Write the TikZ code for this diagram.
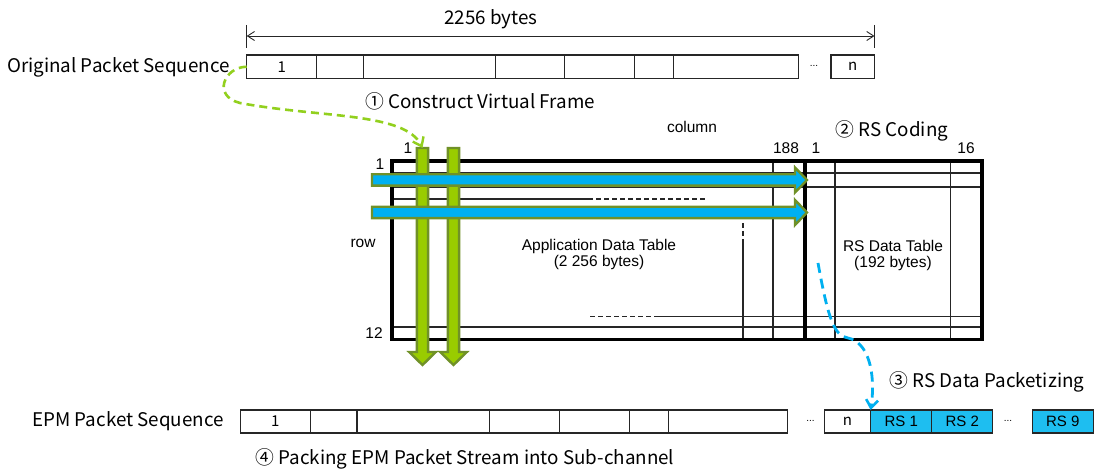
\documentclass[tikz,border=0pt]{standalone}
\usepackage{fontspec}
\setmainfont{Liberation Sans}
\newfontfamily\kfont{Noto Sans CJK KR}
\usetikzlibrary{arrows.meta}
\definecolor{skyb}{RGB}{0,176,240}
\definecolor{rsfill}{RGB}{30,190,240}
\definecolor{limeg}{RGB}{153,204,0}
\definecolor{oliveg}{RGB}{112,145,40}
\definecolor{dashg}{RGB}{146,208,30}
\begin{document}
\begin{tikzpicture}[x=1bp,y=-1bp,
  cell/.style={draw=black!85, line width=1.1bp, inner sep=0pt, outer sep=0pt, minimum height=23.5bp, anchor=west, font=\kfont\fontsize{15bp}{17bp}\selectfont},
  rscell/.style={cell, fill=rsfill, font=\fontsize{15bp}{17bp}\selectfont},
  klabel/.style={font=\kfont\fontsize{18.8bp}{22bp}\selectfont, inner sep=0pt},
  alabel/.style={font=\fontsize{15.5bp}{17bp}\selectfont, inner sep=0pt},
  dots/.style={font=\fontsize{10bp}{12bp}\selectfont, inner sep=0pt},
  thinline/.style={line width=1.3bp, draw=black!85},
  thickline/.style={line width=3.2bp, draw=black},
  garrow/.style={fill=limeg, draw=oliveg, line width=2.4bp, line join=miter},
  barrow/.style={fill=skyb, draw=oliveg, line width=2.4bp, line join=miter},
  gdash/.style={draw=dashg, line width=2.6bp, dash pattern=on 8bp off 5bp, -{Straight Barb[length=8bp,width=12bp,line width=2.4bp]}},
  bdash/.style={draw=skyb, line width=2.8bp, dash pattern=on 10bp off 6bp, -{Straight Barb[length=8bp,width=12bp,line width=2.6bp]}},
  dimline/.style={line width=0.9bp, draw=black!85},
]
\useasboundingbox (0,0) rectangle (1095,469);

% ---------- top: original packet sequence ----------
\node[klabel] (bytes) at (491,19) {2256 bytes};
\coordinate (dimL) at (246.7,36);
\coordinate (dimR) at (874.5,36);
\draw[dimline] (246.7,25) -- (246.7,48);
\draw[dimline] (874.5,25) -- (874.5,48);
\draw[dimline, {Straight Barb[length=7bp,width=9bp]}-{Straight Barb[length=7bp,width=9bp]}] (dimL) -- (dimR);

\node[klabel, anchor=east] (origlbl) at (230,67) {Original Packet Sequence};
\node[cell, minimum width=70bp] (t1) at (246.7,66.75) {1};
\node[cell, minimum width=46.6bp] (t2) at (316.7,66.75) {};
\node[cell, minimum width=132bp] (t3) at (363.3,66.75) {};
\node[cell, minimum width=69.5bp] (t4) at (495.3,66.75) {};
\node[cell, minimum width=70.1bp] (t5) at (564.8,66.75) {};
\node[cell, minimum width=38.9bp] (t6) at (634.9,66.75) {};
\node[cell, minimum width=124.6bp] (t7) at (673.8,66.75) {};
\node[dots] (tdots) at (814,66) {...};
\node[cell, minimum width=43.5bp] (tn) at (831,66.75) {n};

\node[klabel] (step1) at (480,101) {① Construct Virtual Frame};
\node[alabel] (collbl) at (692,127) {column};
\node[klabel] (step2) at (892,131) {② RS Coding};

% ---------- table ----------
\node[alabel] (c1) at (408,148) {1};
\node[alabel] (c188) at (786,148) {188};
\node[alabel] (rc1) at (816,148) {1};
\node[alabel] (rc16) at (966,148) {16};
\node[alabel] (r1) at (380,164) {1};
\node[alabel] (rowlbl) at (363,243) {row};
\node[alabel] (r12) at (374,333) {12};

\draw[thinline] (392,173) -- (982,173);
\draw[thinline] (392,187) -- (982,187);
\draw[thinline] (392,199) -- (588,199);
\draw[thinline, dash pattern=on 5bp off 3bp] (588,199) -- (705,199);
\draw[thinline, dash pattern=on 5bp off 3bp] (590,316.5) -- (657,316.5);
\draw[thinline] (657,316.5) -- (982,316.5);
\draw[thinline] (392,327) -- (982,327);
\draw[thinline, dash pattern=on 5bp off 3bp] (743,223) -- (743,243);
\draw[thinline] (743,243) -- (743,339.5);
\draw[thinline] (773,161) -- (773,339.5);
\draw[thinline] (835,161) -- (835,339.5);
\draw[thinline] (950.7,161) -- (950.7,339.5);
\draw[thickline] (392,161) rectangle (982,339.5);
\draw[thickline] (805,161) -- (805,339.5);

\node[alabel, align=center] (apptbl) at (599,254) {Application Data Table\\[-1bp](2 256 bytes)};
\node[alabel, align=center] (rstbl) at (893,255) {RS Data Table\\[-1bp](192 bytes)};

% green column arrows
\foreach \cx in {422.5,453.5}{
  \draw[garrow] (\cx-5.6,148) -- (\cx+5.6,148) -- (\cx+5.6,352) -- (\cx+13.3,352) -- (\cx,365) -- (\cx-13.3,352) -- (\cx-5.6,352) -- cycle;
}
% blue row arrows
\foreach \cy in {180,212.5}{
  \draw[barrow] (372,\cy-5.7) -- (795,\cy-5.7) -- (795,\cy-12.5) -- (807,\cy) -- (795,\cy+12.5) -- (795,\cy+5.7) -- (372,\cy+5.7) -- cycle;
}

% ---------- bottom: EPM packet sequence ----------
\node[klabel] (epmlbl) at (128,421) {EPM Packet Sequence};
\node[cell, minimum width=70.1bp, minimum height=23bp] (b1) at (240.3,421.5) {1};
\node[cell, minimum width=46.6bp, minimum height=23bp] (b2) at (310.4,421.5) {};
\node[cell, minimum width=132.3bp, minimum height=23bp] (b3) at (357,421.5) {};
\node[cell, minimum width=70.2bp, minimum height=23bp] (b4) at (489.3,421.5) {};
\node[cell, minimum width=69.7bp, minimum height=23bp] (b5) at (559.5,421.5) {};
\node[cell, minimum width=38.9bp, minimum height=23bp] (b6) at (629.2,421.5) {};
\node[cell, minimum width=119bp, minimum height=23bp] (b7) at (668.1,421.5) {};
\node[dots] (bdots1) at (810.5,421) {...};
\node[cell, minimum width=46.4bp, minimum height=23bp] (bn) at (824.3,421.5) {n};
\node[rscell, minimum width=61bp, minimum height=23bp] (rs1) at (870.7,421.5) {RS 1};
\node[rscell, minimum width=61bp, minimum height=23bp] (rs2) at (931.7,421.5) {RS 2};
\node[dots] (bdots2) at (1008,421) {...};
\node[rscell, minimum width=61bp, minimum height=23bp] (rs9) at (1032.3,421.5) {RS 9};

\node[klabel] (step3) at (987,382) {③ RS Data Packetizing};
\node[klabel] (step4) at (465,459) {④ Packing EPM Packet Stream into Sub-channel};

% ---------- dashed connectors ----------
\coordinate (gtop) at (422.5,148);
\draw[gdash] (t1.west) .. controls (224,67) and (212,96) .. (240,103)
  .. controls (320,118) and (405,112) .. (gtop);
\coordinate (rsstart) at (818,263);
\coordinate (rsbend) at (848,338);
\draw[bdash] (rsstart) .. controls (828,318) and (834,336) .. (rsbend)
  .. controls (868,342) and (876,372) .. (rs1.north west);
\end{tikzpicture}
\end{document}
